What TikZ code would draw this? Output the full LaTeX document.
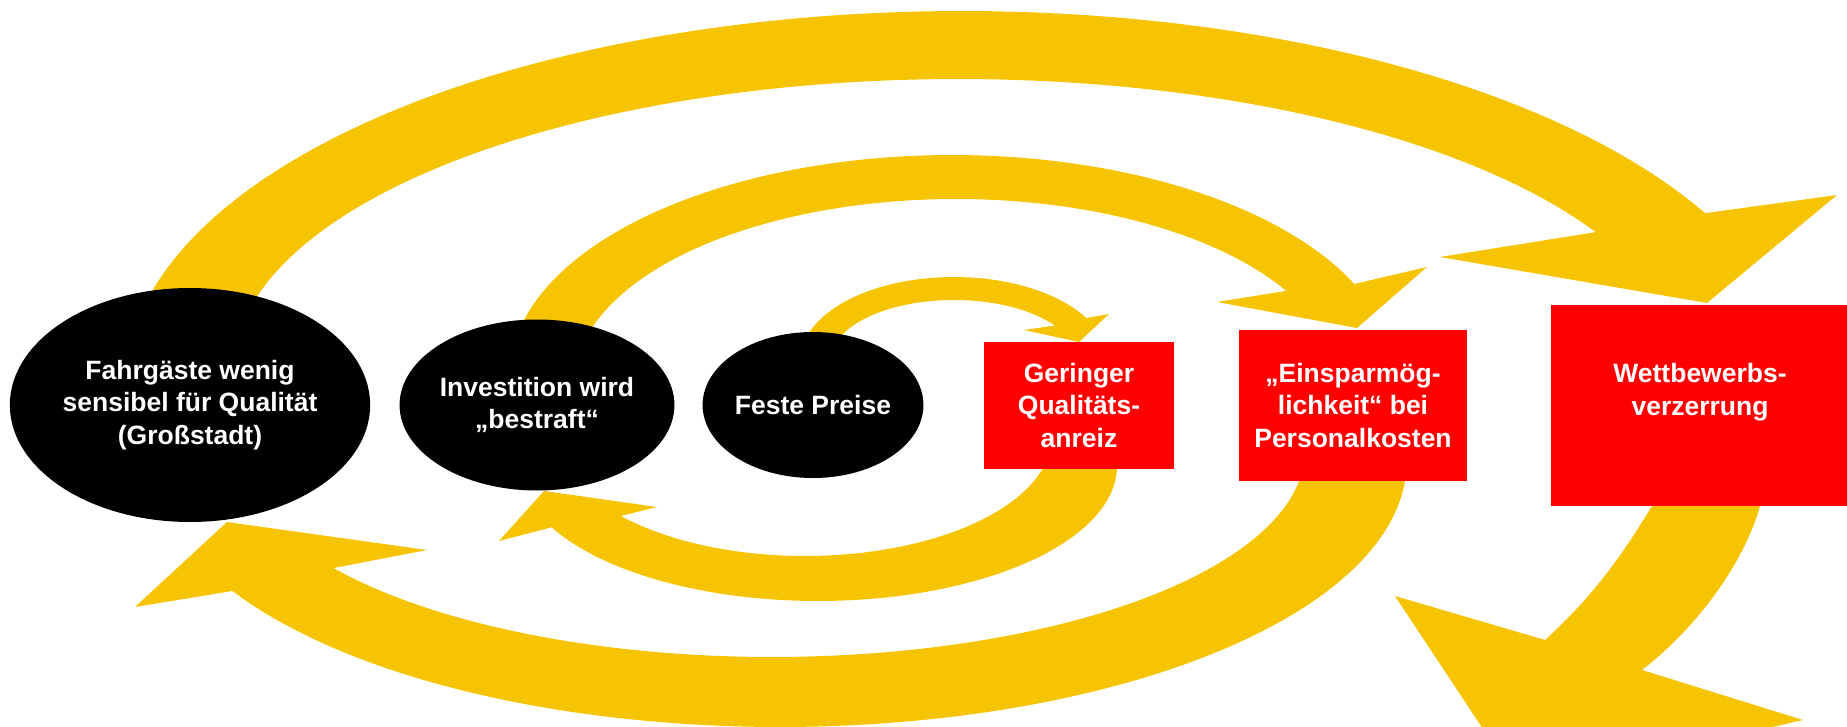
\documentclass[tikz,border=0pt]{standalone}
\usepackage{fontspec}
\setmainfont{Liberation Sans}
\usetikzlibrary{shapes.geometric}
\definecolor{ylw}{RGB}{247,196,3}
\definecolor{rd}{RGB}{255,0,0}
\newcommand\lbltxt{\bfseries\fontsize{26.5}{32.5}\selectfont}
\begin{document}
\begin{tikzpicture}[x=1pt,y=-1pt,
  band/.style={fill=ylw, draw=none},
  arcplot/.style={samples=90, variable=\t},
  blob/.style={ellipse, fill=black, text=white, inner sep=0pt, align=center, font=\lbltxt},
  box/.style={rectangle, fill=rd, text=white, inner sep=0pt, align=center, font=\lbltxt}]
\useasboundingbox (0,0) rectangle (1847,727);
\clip (0,0) rectangle (1847,727);

% A: outer top arrow -> Wettbewerbsverzerrung
\fill[band] plot[arcplot, domain=191:332.6] ({962+837*cos(\t)},{385.5+374.5*sin(\t)})
  -- (1837,195) -- (1707,303) -- (1440,257)
  -- plot[arcplot, domain=331.6:191] ({958+725*cos(\t)},{371+292*sin(\t)}) -- cycle;

% B: middle top arrow -> Einsparmoeglichkeit
\fill[band] plot[arcplot, domain=190.6:335.5] ({952+442.2*cos(\t)},{375.4+220.4*sin(\t)})
  -- (1427,267) -- (1357,328) -- (1217,302)
  -- plot[arcplot, domain=330:193.5] ({956+381.4*cos(\t)},{382.8+183.8*sin(\t)}) -- cycle;

% C: small top arrow -> Geringer Qualitaetsanreiz
\fill[band] plot[arcplot, domain=188.2:329.7] ({954+153.3*cos(\t)},{359.8+82.8*sin(\t)})
  -- (1109,314) -- (1079,342) -- (1024,330)
  -- plot[arcplot, domain=325:191.4] ({954+123*cos(\t)},{359.8+59.8*sin(\t)}) -- cycle;

% D: small bottom arrow -> Investition wird bestraft
\fill[band] plot[arcplot, domain=9:138.2] ({805+247*cos(\t)},{436+120*sin(\t)})
  -- (657,507) -- (544,491) -- (499,541)
  -- plot[arcplot, domain=153:-5] ({818+299*cos(\t)},{466+135*sin(\t)}) -- cycle;

% E: middle bottom arrow -> Fahrgaeste
\fill[band] plot[arcplot, domain=4.7:145.4] ({772+532.7*cos(\t)},{451.2+205.8*sin(\t)})
  -- (427,550) -- (227,522) -- (135,607)
  -- plot[arcplot, domain=150.9:1.25] ({780+626.6*cos(\t)},{462.2+264.8*sin(\t)}) -- cycle;

% F: outer bottom arrow from Wettbewerbsverzerrung
\fill[band] (1655,490) -- (1652,506) .. controls (1628,545) and (1600,590) .. (1545,640)
  -- (1395,596) -- (1520,785) -- (1803,720)
  -- (1642,670) .. controls (1700,625) and (1745,560) .. (1760,506) -- (1763,490) -- cycle;

% nodes
\node[blob, minimum width=354pt, minimum height=234pt] (fahr) at (190,405) {Fahrgäste wenig\\sensibel für Qualität\\(Großstadt)};
\node[blob, minimum width=256pt, minimum height=171pt] (inv) at (537,405) {Investition wird\\„bestraft“};
\node[blob, minimum width=218pt, minimum height=146pt] (fest) at (813,405) {Feste Preise};
\node[box, minimum width=190pt, minimum height=127pt] (ger) at (1079,405.5) {Geringer\\Qualitäts-\\anreiz};
\node[box, minimum width=228pt, minimum height=151pt] (ein) at (1353,405.5) {„Einsparmög-\\lichkeit“ bei\\Personalkosten};
\node[box, minimum width=298pt, minimum height=201pt] (wett) at (1700,405.5) {Wettbewerbs-\\verzerrung\\~};
\end{tikzpicture}
\end{document}
